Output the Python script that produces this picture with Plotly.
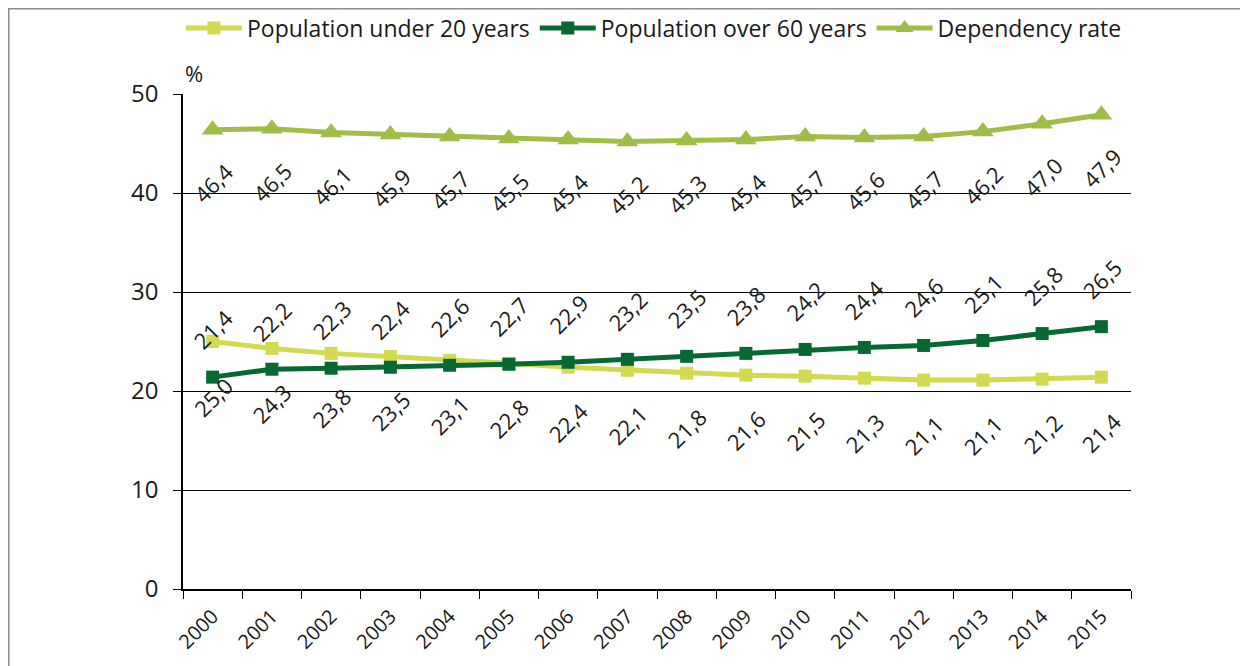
import plotly.graph_objects as go

# data
years = [str(y) for y in range(2000, 2016)]
under_20 = [25.0, 24.3, 23.8, 23.5, 23.1, 22.8, 22.4, 22.1, 21.8, 21.6, 21.5, 21.3, 21.1, 21.1, 21.2, 21.4]
over_60 = [21.4, 22.2, 22.3, 22.4, 22.6, 22.7, 22.9, 23.2, 23.5, 23.8, 24.2, 24.4, 24.6, 25.1, 25.8, 26.5]
dependency = [46.4, 46.5, 46.1, 45.9, 45.7, 45.5, 45.4, 45.2, 45.3, 45.4, 45.7, 45.6, 45.7, 46.2, 47.0, 47.9]

FONT = "Open Sans"
TEXT = "#1a1a1a"

series = [
    # name, values, colour, marker symbol, marker size, label offset (px)
    ("Population under 20 years", under_20, "#D2DA50", "square", 13, -55),
    ("Population over 60 years", over_60, "#086834", "square", 13, 48),
    ("Dependency rate", dependency, "#A2BC48", "triangle-up", 19, -53),
]

fig = go.Figure()
annotations = []

for name, values, color, symbol, size, shift in series:
    fig.add_trace(go.Scatter(
        x=years, y=values, name=name, mode="lines+markers",
        line=dict(color=color, width=5),
        marker=dict(color=color, symbol=symbol, size=size),
    ))
    # rotated data labels, comma as decimal separator
    # (category index used for x, since "2000" would be read as an index)
    for i, v in enumerate(values):
        annotations.append(dict(
            x=i, y=v, xref="x", yref="y", yshift=shift,
            text=f"{v:.1f}".replace(".", ","), showarrow=False,
            textangle=-45, font=dict(family=FONT, size=22, color=TEXT),
            xanchor="center", yanchor="middle",
        ))

annotations.append(dict(
    x=0.0, y=1.042, xref="paper", yref="paper", text="%", showarrow=False,
    xanchor="left", yanchor="middle", font=dict(family=FONT, size=22, color=TEXT),
))

fig.update_layout(
    width=1248, height=666,
    # page body adds 8px, so margins are trimmed by that much
    margin=dict(l=175, r=125, t=86, b=85, autoexpand=False),
    paper_bgcolor="white", plot_bgcolor="white",
    font=dict(family=FONT, size=22, color=TEXT),
    showlegend=True,
    legend=dict(orientation="h", xref="container", yref="container",
                x=0.5176, y=0.97, xanchor="center", yanchor="middle",
                bgcolor="rgba(0,0,0,0)", itemwidth=56,
                font=dict(family=FONT, size=23, color=TEXT), tracegroupgap=0),
    annotations=annotations,
    shapes=[dict(type="rect", xref="paper", yref="paper",
                 x0=-0.1838, x1=1.3, y0=-0.3, y1=1.172,
                 line=dict(color="#8a8a8a", width=1.5), layer="below")],
)

fig.update_xaxes(
    type="category", range=[-0.5, 15.5], tickson="boundaries",
    ticks="outside", ticklen=8, tickcolor="black", tickwidth=1,
    showline=True, linecolor="black", linewidth=1.5,
    showgrid=False, tickangle=-45, ticklabelstandoff=6,
    tickfont=dict(family=FONT, size=20, color=TEXT),
)
fig.update_yaxes(
    range=[0, 50], dtick=10, ticks="outside", ticklen=8, tickcolor="black",
    showline=True, linecolor="black", linewidth=1.5,
    showgrid=True, gridcolor="black", gridwidth=1, zeroline=False,
    tickfont=dict(family=FONT, size=24, color=TEXT), ticklabelstandoff=10,
)

fig.write_html("out.html")
